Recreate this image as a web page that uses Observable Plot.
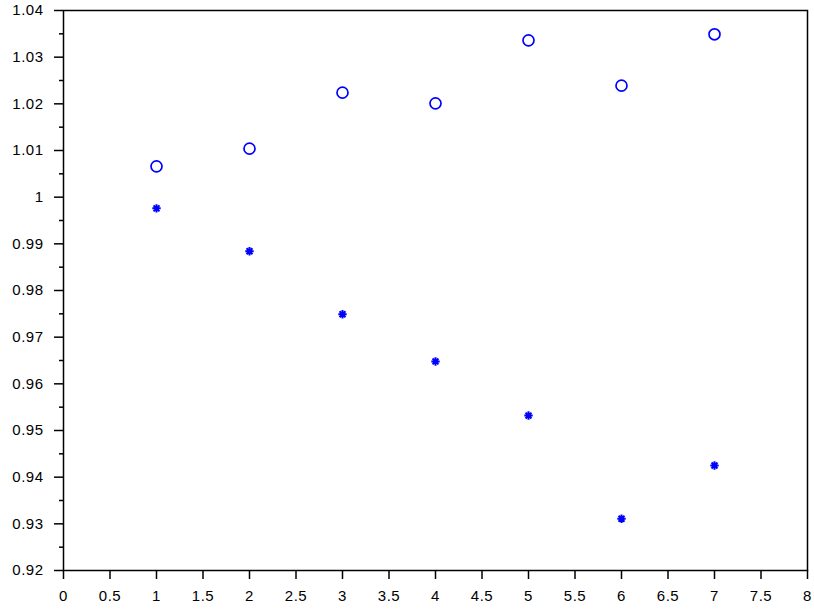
<!DOCTYPE html>
<html>
<head>
<meta charset="utf-8">
<script src="https://cdn.jsdelivr.net/npm/d3@7"></script>
<script src="https://cdn.jsdelivr.net/npm/@observablehq/plot@0.6"></script>
<style>
  html, body { margin: 0; padding: 0; background: #fff; }
  svg { display: block; }
</style>
</head>
<body>
<div id="chart"></div>
<script>
const xs = [1, 2, 3, 4, 5, 6, 7];
const circleValues = [1.0066, 1.0104, 1.0224, 1.0201, 1.0336, 1.0239, 1.0349];
const starValues = [0.9976, 0.9884, 0.9749, 0.9648, 0.9532, 0.9311, 0.9425];
const xTicks = [0, 0.5, 1, 1.5, 2, 2.5, 3, 3.5, 4, 4.5, 5, 5.5, 6, 6.5, 7, 7.5, 8];
const yTicks = [0.92, 0.93, 0.94, 0.95, 0.96, 0.97, 0.98, 0.99, 1, 1.01, 1.02, 1.03, 1.04];
const yMinorTicks = [0.925, 0.935, 0.945, 0.955, 0.965, 0.975, 0.985, 0.995, 1.005, 1.015, 1.025, 1.035];

const circles = xs.map((x, i) => ({x, y: circleValues[i]}));
const stars = xs.map((x, i) => ({x, y: starValues[i]}));

const asterisk8 = {
  draw(ctx, size) {
    const r = Math.sqrt(size / Math.PI);
    for (let k = 0; k < 4; k++) {
      const a = k * Math.PI / 4;
      const dx = r * Math.cos(a), dy = r * Math.sin(a);
      ctx.moveTo(-dx, -dy);
      ctx.lineTo(dx, dy);
    }
  }
};

const fmt = d => String(+d.toFixed(2));
const FONT = "'Liberation Sans', Arial, Helvetica, sans-serif";

const chart = Plot.plot({
  width: 814,
  height: 609,
  marginLeft: 63,
  marginRight: 7,
  marginTop: 10,
  marginBottom: 39,
  style: {fontFamily: FONT, fontSize: "15px", letterSpacing: "0.5px", color: "#000", background: "#fff"},
  x: {domain: [0, 8]},
  y: {domain: [0.92, 1.04]},
  marks: [
    Plot.axisX({ticks: xTicks, tickSize: 9, tickPadding: 11, strokeWidth: 1.5, label: null, tickFormat: fmt, fontSize: 15, fontFamily: FONT}),
    Plot.axisY({ticks: yTicks, tickSize: 9, tickPadding: 11, strokeWidth: 1.5, label: null, tickFormat: fmt, fontSize: 15, fontFamily: FONT}),
    Plot.axisY({ticks: yMinorTicks, tickSize: 4, strokeWidth: 1.5, label: null, tickFormat: () => ""}),
    Plot.frame({stroke: "#000", strokeWidth: 1.5}),
    Plot.dot(circles, {x: "x", y: "y", r: 5.5, stroke: "#0000ff", strokeWidth: 1.7, fill: "none"}),
    Plot.dot(stars, {x: "x", y: "y", r: 4.2, symbol: asterisk8, stroke: "#0000ff", strokeWidth: 2, fill: "none"})
  ]
});
document.getElementById("chart").appendChild(chart);
</script>
</body>
</html>
